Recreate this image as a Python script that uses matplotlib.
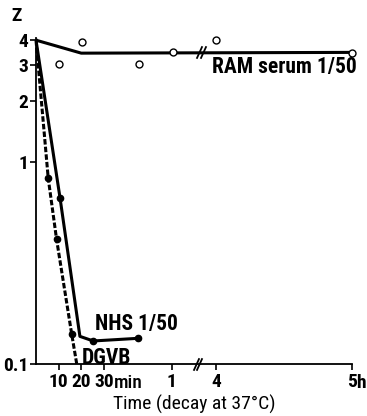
#!/usr/bin/env python3
"""Decay of Z at 37 C: RAM serum vs NHS vs DGVB, broken time axis."""
import numpy as np
import matplotlib
matplotlib.use("Agg")
import matplotlib.pyplot as plt
from matplotlib.transforms import ScaledTranslation

# time in minutes, Z on a log axis
ram_line_t = [0, 20, 300]
ram_line_z = [4.0, 3.45, 3.48]
ram_pts_t = [10.2, 20.3, 45.5, 60.5, 240, 300]
ram_pts_z = [3.04, 3.90, 3.04, 3.48, 3.99, 3.44]

nhs_t = [0, 10.6, 19.4, 25.3, 45.2]
nhs_z = [4.0, 0.665, 0.137, 0.130, 0.134]
nhs_dot_t = [10.6, 25.3, 45.2]
nhs_dot_z = [0.665, 0.130, 0.134]

dgvb_t = [0, 5.4, 9.1, 15.8, 18.0]
dgvb_z = [4.0, 0.83, 0.413, 0.140, 0.1]
dgvb_dot_t = [5.4, 9.1, 15.8]
dgvb_dot_z = [0.83, 0.413, 0.140]

xticks = [10, 20, 30, 60, 240, 300]
xticklabels = ["10", "20", "30", "1", "4", "5"]
yticks = [0.1, 1, 2, 3, 4]
yticklabels = ["0.1", "1", "2", "3", "4"]

# the axis skips from ~74 min to ~236 min (about 1.2 h -> 3.9 h)
GAP_A, GAP_B, SQ = 74.0, 236.0, 0.01
SHIFT = (GAP_B - GAP_A) * (1 - SQ)


def fwd(m):
    m = np.asarray(m, dtype=float)
    return np.where(m <= GAP_A, m,
                    np.where(m >= GAP_B, m - SHIFT, GAP_A + (m - GAP_A) * SQ))


def inv(d):
    d = np.asarray(d, dtype=float)
    lim = GAP_A + (GAP_B - GAP_A) * SQ
    return np.where(d <= GAP_A, d,
                    np.where(d >= lim, d + SHIFT, GAP_A + (d - GAP_A) / SQ))


plt.rcParams["font.family"] = ["Roboto Condensed", "Archivo Narrow", "DejaVu Sans"]
plt.rcParams["font.weight"] = "bold"
FS = 14        # ticks, axis label
FS_LAB = 15.5  # curve labels

fig = plt.figure(figsize=(3.67, 4.16), dpi=100)
ax = fig.add_axes([36 / 367, 52 / 416, 316 / 367, 326 / 416])
ax.set_xscale("function", functions=(fwd, inv))
ax.set_yscale("log")
ax.set_xlim(0, 300)
ax.set_ylim(0.1, 4.1)

lw = 2.2
ax.plot(ram_line_t, ram_line_z, "-", color="k", lw=lw)
ax.plot(ram_pts_t, ram_pts_z, "o", ms=5, mfc="white", mec="k", mew=1.0,
        clip_on=False, zorder=4)
ax.plot(nhs_t, nhs_z, "-", color="k", lw=lw)
ax.plot(nhs_dot_t, nhs_dot_z, "o", ms=4.5, color="k")
ax.plot(dgvb_t, dgvb_z, "--", color="k", lw=lw, dashes=(1.8, 0.7), clip_on=False)
ax.plot(dgvb_dot_t, dgvb_dot_z, "o", ms=4.5, color="k")

for s in ("top", "right"):
    ax.spines[s].set_visible(False)
for s in ("left", "bottom"):
    ax.spines[s].set_linewidth(1.3)

ax.set_xticks(xticks)
ax.set_xticklabels(xticklabels)
ax.xaxis.set_minor_locator(matplotlib.ticker.NullLocator())
ax.set_yticks(yticks)
ax.set_yticklabels(yticklabels)
ax.yaxis.set_minor_locator(matplotlib.ticker.NullLocator())
ax.tick_params(direction="out", length=4, width=1.2, labelsize=FS, pad=1.5)
ax.tick_params(axis="x", pad=2.5)

# break marks on the axis and on the RAM line
slash = [(-1, -2.2), (1, 2.2)]
ax.plot([70.6, 72.2], [0.1, 0.1], ls="none", marker=slash, ms=9, mew=1.3,
        color="k", clip_on=False, zorder=5)
ax.plot([72.0, 73.6], [3.48, 3.48], ls="none", marker=slash, ms=9, mew=1.3,
        color="k", zorder=5)

fig.text(17 / 367, 1 - 16 / 416, "Z", fontsize=FS, ha="center", va="center")
below = ax.get_xaxis_transform() + ScaledTranslation(0, -17.3 / 72, fig.dpi_scale_trans)
ax.text(34.5, 0, "min", fontsize=14, fontweight="medium", ha="left",
        va="baseline", transform=below)
ax.text(300, 0, "h", fontsize=FS, ha="left", va="baseline",
        transform=below + ScaledTranslation(3 / 72, 0, fig.dpi_scale_trans))

ax.text(238, 2.93, "RAM serum 1/50", fontsize=FS_LAB, ha="left", va="center")
ax.text(26.1, 0.157, "NHS 1/50", fontsize=FS_LAB, ha="left", va="center")
ax.text(20.3, 0.1075, "DGVB", fontsize=FS_LAB, ha="left", va="center")

ax.set_xlabel("Time (decay at 37°C)", fontsize=FS, labelpad=3)

fig.savefig("out.png", dpi=100)
